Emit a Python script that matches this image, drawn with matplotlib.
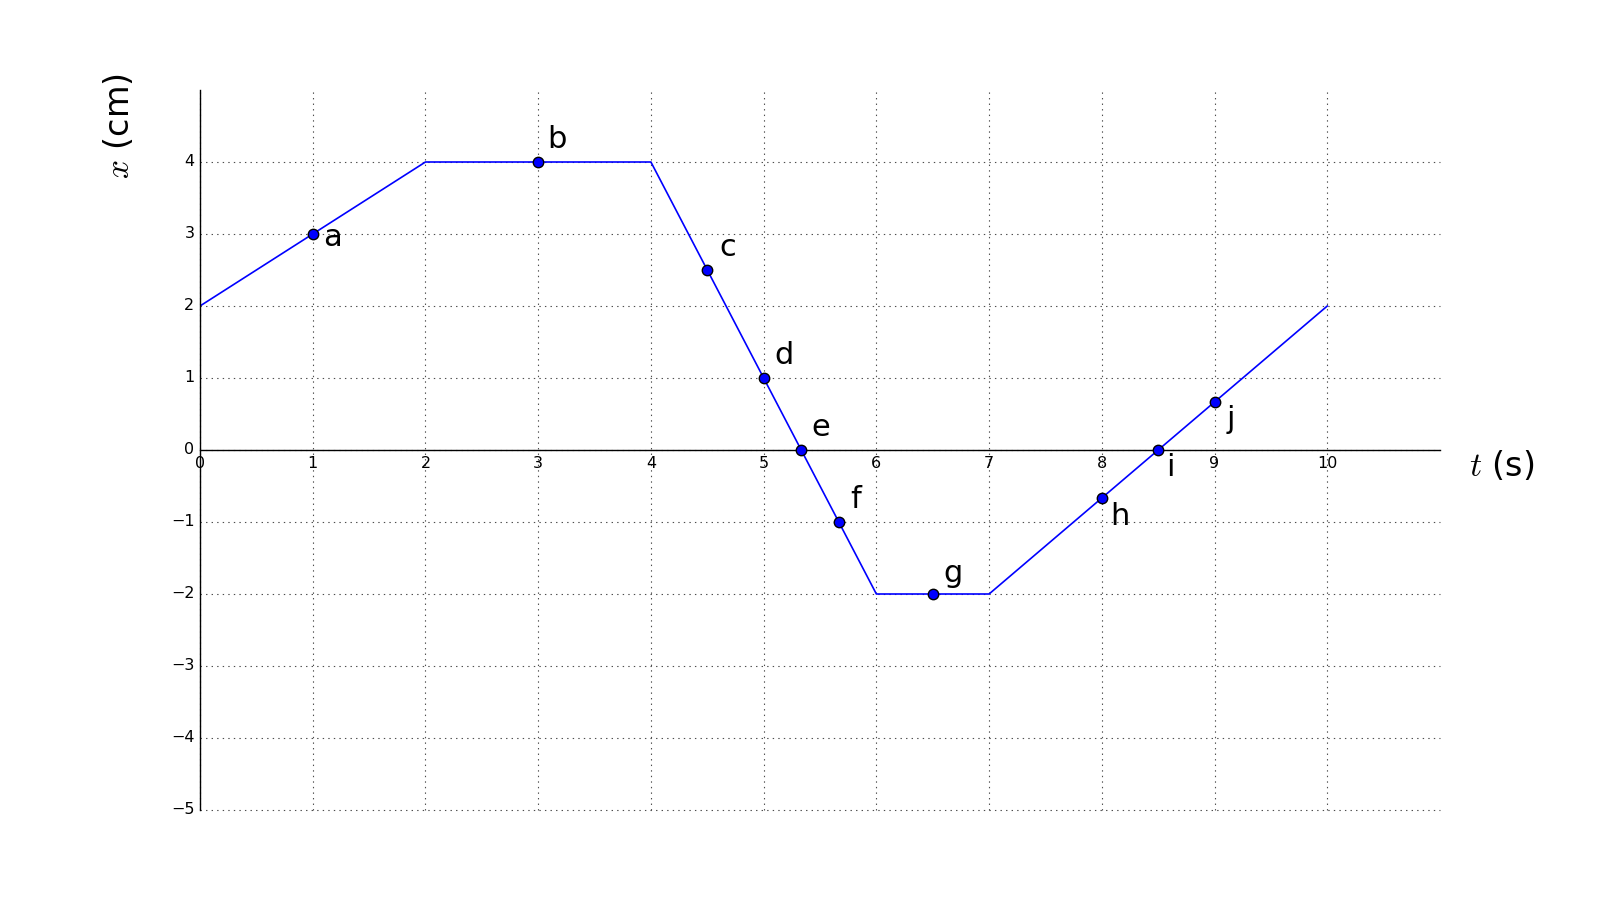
import matplotlib
matplotlib.use("Agg")
import matplotlib.pyplot as plt

# path of the motion
path_t = [0, 2, 4, 6, 7, 10]
path_x = [2, 4, 4, -2, -2, 2]

# labelled points
pt_labels = ["a", "b", "c", "d", "e", "f", "g", "h", "i", "j"]
pt_t = [1, 3, 4.5, 5, 5.333, 5.667, 6.5, 8, 8.5, 9]
pt_x = [3, 4, 2.5, 1, 0, -1, -2, -0.667, 0, 0.667]
pt_offsets = [(20, -4), (19, 22), (20, 22), (20, 23), (20, 22),
              (17, 22), (20, 21), (18, -18), (12, -18), (16, -18)]

x_ticks = list(range(0, 11))
y_ticks = list(range(-5, 5))

plt.style.use("classic")
fig = plt.figure(figsize=(16, 9), dpi=100, facecolor="white")
ax = fig.add_axes([0.125, 0.1, 0.775, 0.8])

ax.plot(path_t, path_x, color="b", lw=1.2, zorder=2)
ax.plot(pt_t, pt_x, "o", color="b", mec="k", ms=7.5, mew=1, zorder=3)
for lab, t, x, off in zip(pt_labels, pt_t, pt_x, pt_offsets):
    ax.annotate(lab, (t, x), xytext=off, textcoords="offset pixels",
                ha="center", va="center", fontsize=22)

ax.set_xlim(0, 11)
ax.set_ylim(-5, 5)
ax.set_xticks(x_ticks)
ax.set_yticks(y_ticks)
ax.tick_params(labelsize=11.5, length=0)
ax.spines["left"].set_position("zero")
ax.spines["bottom"].set_position("zero")
ax.spines["top"].set_visible(False)
ax.spines["right"].set_visible(False)
ax.xaxis.set_ticks_position("bottom")
ax.yaxis.set_ticks_position("left")
ax.grid(True, linestyle=":", color="0.3", lw=0.8)
ax.set_axisbelow(True)
for gl in ax.get_ygridlines() + ax.get_xgridlines():
    gl.set_clip_on(False)

ax.set_ylabel("$x$ (cm)", fontsize=24)
ax.yaxis.set_label_coords(-0.052, 0.95)
ax.set_xlabel("$t$ (s)", fontsize=24)
ax.xaxis.set_label_coords(1.05, 0.478)
ax.xaxis.label.set_va("center")

fig.savefig("out.png", dpi=100, facecolor="white")
